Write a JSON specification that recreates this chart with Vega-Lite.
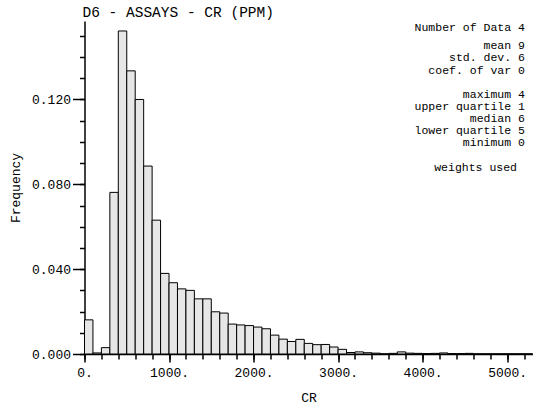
{
  "$schema": "https://vega.github.io/schema/vega-lite/v6.json",
  "autosize": "none",
  "width": 448,
  "height": 333,
  "padding": {"left": 84.5, "top": 21, "right": 0, "bottom": 60},
  "background": "white",
  "view": {"stroke": null},
  "title": {
    "text": "D6 - ASSAYS - CR (PPM)",
    "anchor": "start",
    "frame": "group",
    "font": "Liberation Mono",
    "fontSize": 14.5,
    "fontWeight": "normal",
    "color": "#000",
    "offset": 1,
    "dx": -2
  },
  "config": {
    "font": "Liberation Mono",
    "axis": {
      "labelFont": "Liberation Mono",
      "titleFont": "Liberation Mono",
      "labelColor": "#000",
      "titleColor": "#000",
      "tickColor": "#000",
      "domainColor": "#000",
      "grid": false,
      "labelFontSize": 13,
      "titleFontSize": 13,
      "titleFontWeight": "normal",
      "labelFlush": false,
      "offset": 0
    }
  },
  "layer": [
    {
      "data": {
        "values": [
          {"start": 0, "end": 100, "freq": 0.0161},
          {"start": 100, "end": 200, "freq": 0.0005},
          {"start": 200, "end": 300, "freq": 0.003},
          {"start": 300, "end": 400, "freq": 0.0762},
          {"start": 400, "end": 500, "freq": 0.1523},
          {"start": 500, "end": 600, "freq": 0.1335},
          {"start": 600, "end": 700, "freq": 0.1200},
          {"start": 700, "end": 800, "freq": 0.0886},
          {"start": 800, "end": 900, "freq": 0.0631},
          {"start": 900, "end": 1000, "freq": 0.0380},
          {"start": 1000, "end": 1100, "freq": 0.0336},
          {"start": 1100, "end": 1200, "freq": 0.0307},
          {"start": 1200, "end": 1300, "freq": 0.0300},
          {"start": 1300, "end": 1400, "freq": 0.0260},
          {"start": 1400, "end": 1500, "freq": 0.0260},
          {"start": 1500, "end": 1600, "freq": 0.0199},
          {"start": 1600, "end": 1700, "freq": 0.0193},
          {"start": 1700, "end": 1800, "freq": 0.0141},
          {"start": 1800, "end": 1900, "freq": 0.0137},
          {"start": 1900, "end": 2000, "freq": 0.0134},
          {"start": 2000, "end": 2100, "freq": 0.0127},
          {"start": 2100, "end": 2200, "freq": 0.0119},
          {"start": 2200, "end": 2300, "freq": 0.0089},
          {"start": 2300, "end": 2400, "freq": 0.0070},
          {"start": 2400, "end": 2500, "freq": 0.0059},
          {"start": 2500, "end": 2600, "freq": 0.0069},
          {"start": 2600, "end": 2700, "freq": 0.0050},
          {"start": 2700, "end": 2800, "freq": 0.0044},
          {"start": 2800, "end": 2900, "freq": 0.0045},
          {"start": 2900, "end": 3000, "freq": 0.0033},
          {"start": 3000, "end": 3100, "freq": 0.0022},
          {"start": 3100, "end": 3200, "freq": 0.0007},
          {"start": 3200, "end": 3300, "freq": 0.0010},
          {"start": 3300, "end": 3400, "freq": 0.0006},
          {"start": 3400, "end": 3500, "freq": 0.0004},
          {"start": 3500, "end": 3600, "freq": 0.0001},
          {"start": 3600, "end": 3700, "freq": 0.0003},
          {"start": 3700, "end": 3800, "freq": 0.0010},
          {"start": 3800, "end": 3900, "freq": 0.0004},
          {"start": 3900, "end": 4000, "freq": 0.0003},
          {"start": 4000, "end": 4100, "freq": 0.0002},
          {"start": 4100, "end": 4200, "freq": 0.0003},
          {"start": 4200, "end": 4300, "freq": 0.0005},
          {"start": 4300, "end": 4400, "freq": 0.0002},
          {"start": 4400, "end": 4500, "freq": 0.0002},
          {"start": 4500, "end": 4600, "freq": 0.0003},
          {"start": 4600, "end": 4700, "freq": 0.0001},
          {"start": 4700, "end": 4800, "freq": 0.0001},
          {"start": 4800, "end": 4900, "freq": 0.0001},
          {"start": 4900, "end": 5000, "freq": 0.0001},
          {"start": 5000, "end": 5100, "freq": 0.0001},
          {"start": 5100, "end": 5200, "freq": 0.0001},
          {"start": 5200, "end": 5300, "freq": 0.0001}
        ]
      },
      "mark": {"type": "bar", "fill": "#e6e6e6", "stroke": "#000", "strokeWidth": 1},
      "encoding": {
        "x": {
          "field": "start",
          "type": "quantitative",
          "scale": {"domain": [0, 5300], "nice": false, "zero": true},
          "axis": {
            "orient": "bottom",
            "values": [0, 1000, 2000, 3000, 4000, 5000],
            "labelExpr": "datum.value + '.'",
            "tickSize": 8,
            "labelPadding": 4,
            "title": "CR",
            "titlePadding": 12,
            "domainWidth": 1.5,
            "tickWidth": 1.5
          }
        },
        "x2": {"field": "end"},
        "y": {
          "field": "freq",
          "type": "quantitative",
          "scale": {"domain": [0, 0.157], "nice": false},
          "axis": {
            "orient": "left",
            "values": [0, 0.04, 0.08, 0.12],
            "format": ".3f",
            "tickSize": 12,
            "labelPadding": 2,
            "title": "Frequency",
            "titlePadding": 9,
            "domainWidth": 1.5,
            "tickWidth": 1.5
          }
        },
        "y2": {"datum": 0}
      }
    },
    {
      "data": {
        "values": [
          {"label": "Number of Data 4", "x": 5211, "y": 0.1524},
          {"label": "mean 9", "x": 5211, "y": 0.1438},
          {"label": "std. dev. 6", "x": 5211, "y": 0.1380},
          {"label": "coef. of var 0", "x": 5211, "y": 0.1322},
          {"label": "maximum 4", "x": 5211, "y": 0.1207},
          {"label": "upper quartile 1", "x": 5211, "y": 0.1149},
          {"label": "median 6", "x": 5211, "y": 0.1094},
          {"label": "lower quartile 5", "x": 5211, "y": 0.1035},
          {"label": "minimum 0", "x": 5211, "y": 0.0979},
          {"label": "weights used", "x": 5117, "y": 0.0861}
        ]
      },
      "mark": {"type": "text", "align": "right", "baseline": "alphabetic", "font": "Liberation Mono", "fontSize": 11.5, "color": "#000"},
      "encoding": {
        "text": {"field": "label"},
        "x": {
          "field": "x",
          "type": "quantitative",
          "scale": {"domain": [0, 5300], "nice": false, "zero": true},
          "axis": {
            "orient": "bottom",
            "values": [0, 200, 400, 600, 800, 1000, 1200, 1400, 1600, 1800, 2000, 2200, 2400, 2600, 2800, 3000, 3200, 3400, 3600, 3800, 4000, 4200, 4400, 4600, 4800, 5000, 5200],
            "labels": false,
            "domain": false,
            "tickSize": 5,
            "tickWidth": 1.5,
            "title": null
          }
        },
        "y": {
          "field": "y",
          "type": "quantitative",
          "scale": {"domain": [0, 0.157], "nice": false},
          "axis": {
            "orient": "left",
            "values": [0, 0.01, 0.02, 0.03, 0.04, 0.05, 0.06, 0.07, 0.08, 0.09, 0.10, 0.11, 0.12, 0.13, 0.14, 0.15],
            "labels": false,
            "domain": false,
            "tickSize": 5,
            "tickWidth": 1.5,
            "title": null
          }
        }
      }
    }
  ],
  "resolve": {
    "scale": {"x": "independent", "y": "independent"},
    "axis": {"x": "independent", "y": "independent"}
  }
}
